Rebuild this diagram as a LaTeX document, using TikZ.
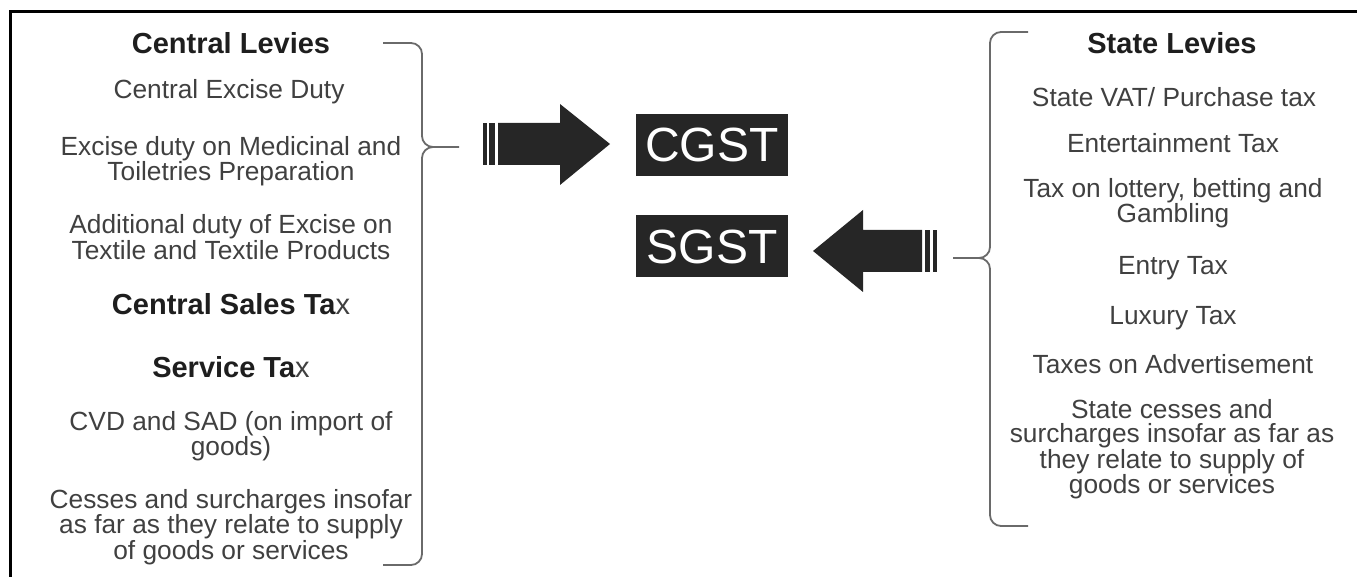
\documentclass[tikz,border=0pt]{standalone}
\usepackage{fontspec}
\setmainfont{Liberation Sans}
\definecolor{txt}{HTML}{404040}
\definecolor{head}{HTML}{1E1E1E}
\definecolor{boxfill}{HTML}{262626}
\definecolor{brace}{HTML}{6A6A6A}
\begin{document}
\begin{tikzpicture}[x=1pt,y=-1pt,
  item/.style={text=txt,align=center,inner sep=0pt,font=\fontsize{26.3}{24.5}\selectfont},
  heading/.style={text=head,align=center,inner sep=0pt,font=\fontsize{29}{29}\selectfont\bfseries},
  gstbox/.style={fill=boxfill,text=white,minimum width=152pt,minimum height=62pt,inner sep=0pt,font=\fontsize{48}{48}\selectfont},
  bracepath/.style={draw=brace,line width=1.8pt},
  bigarrow/.style={fill=boxfill,draw=none}]
\useasboundingbox (0,0) rectangle (1357,577);
\draw[line width=3pt,black] (10,577) -- (10,11.5) -- (1357,11.5);

% left column
\node[heading] (cl) at (231,43) {Central Levies};
\node[item] (c1) at (229,92) {Central Excise Duty};
\node[item] (c2) at (231,161) {Excise duty on Medicinal and\\Toiletries Preparation};
\node[item] (c3) at (231,237) {Additional duty of Excise on\\Textile and Textile Products};
\node[heading] (c4) at (231,304) {Central Sales Ta\textcolor{txt}{\mdseries x}};
\node[heading] (c5) at (231,367) {Service Ta\textcolor{txt}{\mdseries x}};
\node[item] (c6) at (231,436) {CVD and SAD (on import of\\goods)};
\node[item] (c7) at (231,527) {Cesses and surcharges insofar\\as far as they relate to supply\\of goods or services};

% right column
\node[heading] (sl) at (1172,43) {State Levies};
\node[item] (s1) at (1174,97) {State VAT/ Purchase tax};
\node[item] (s2) at (1173,143) {Entertainment Tax};
\node[item] (s3) at (1173,203) {Tax on lottery, betting and\\Gambling};
\node[item] (s4) at (1173,268) {Entry Tax};
\node[item] (s5) at (1173,318) {Luxury Tax};
\node[item] (s6) at (1173,364) {Taxes on Advertisement};
\node[item] (s7) at (1172,449) {State cesses and\\surcharges insofar as far as\\they relate to supply of\\goods or services};

% braces
\coordinate (lbt) at (459,147);
\coordinate (rbt) at (953,258);
\draw[bracepath] (383,43) -- (411,43) to[out=0,in=90] (422,54) -- (422,136)
  to[out=-90,in=180] (433,147) -- (lbt);
\draw[bracepath] (433,147) to[out=180,in=90] (422,158) -- (422,554)
  to[out=-90,in=0] (411,565) -- (383,565);
\draw[bracepath] (1028,32) -- (1001,32) to[out=180,in=90] (990,43) -- (990,247)
  to[out=-90,in=0] (979,258) -- (rbt);
\draw[bracepath] (979,258) to[out=0,in=90] (990,269) -- (990,515)
  to[out=-90,in=180] (1001,526) -- (1028,526);

% boxes
\node[gstbox] (cgst) at (712,145) {CGST};
\node[gstbox] (sgst) at (712,246.5) {SGST};

% right arrow (to CGST)
\fill[bigarrow] (498,123) -- (560,123) -- (560,104) -- (610,144) -- (560,185) -- (560,165) -- (498,165) -- cycle;
\fill[bigarrow] (489,123) rectangle (495,165);
\fill[bigarrow] (483,123) rectangle (486.5,165);

% left arrow (to SGST)
\fill[bigarrow] (922,230) -- (863,230) -- (863,210) -- (813,251) -- (863,292) -- (863,272) -- (922,272) -- cycle;
\fill[bigarrow] (925,230) rectangle (930,272);
\fill[bigarrow] (933,230) rectangle (937,272);
\end{tikzpicture}
\end{document}
